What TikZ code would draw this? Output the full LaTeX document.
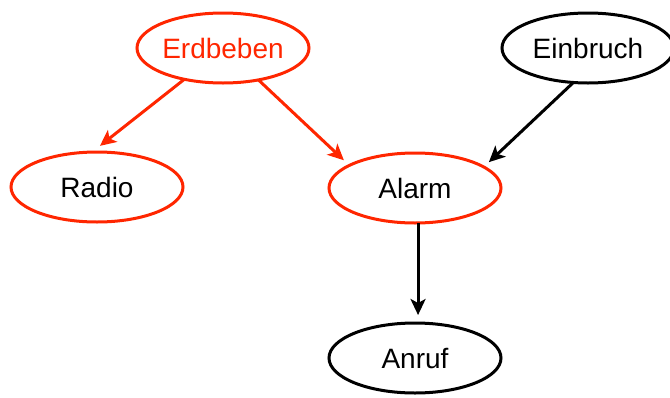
\documentclass[tikz,border=0pt]{standalone}
\usepackage{fontspec}
\setmainfont{Liberation Sans}
\usetikzlibrary{arrows.meta,shapes.geometric}
\definecolor{quakered}{HTML}{FF2600}
\tikzset{
  var/.style={ellipse, draw=black, line width=3pt, minimum width=172pt, minimum height=70pt,
    inner sep=0pt, outer sep=0pt, font=\fontsize{28}{31}\selectfont, text=black},
  hot/.style={var, draw=quakered},
  edge/.style={line width=3pt, draw=black, -{Stealth[length=16pt, width=15pt, inset=4pt]}},
  hotedge/.style={edge, draw=quakered, fill=quakered}
}
\begin{document}
\begin{tikzpicture}[x=1pt, y=-1pt]
  \useasboundingbox (0,0) rectangle (670,397);
  % variables of the network
  \node[hot, text=quakered] (erd) at (223,48) {Erdbeben};
  \node[var] (ein) at (588,48) {Einbruch};
  \node[hot] (radio) at (97,187) {Radio};
  \node[hot] (alarm) at (415,188) {Alarm};
  \node[var] (anruf) at (415,358) {Anruf};
  % dependencies
  \draw[hotedge, shorten >=10pt] (erd.219) -- (radio.98);
  \draw[hotedge, shorten >=7.5pt] (erd.318) -- (alarm.161);
  \draw[edge, shorten >=7pt] (ein.247) -- (alarm.17);
  \draw[edge, shorten >=8pt] (alarm.275) -- (anruf.85);
\end{tikzpicture}
\end{document}
